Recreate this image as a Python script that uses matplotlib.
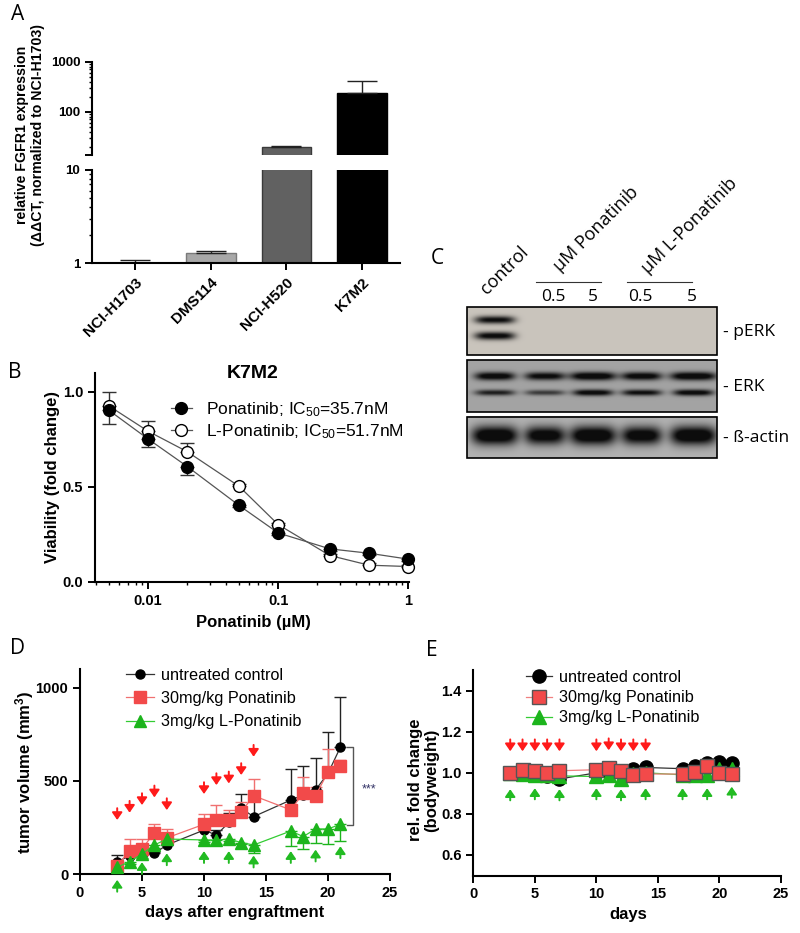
import numpy as np
import matplotlib
matplotlib.use('Agg')
import matplotlib.pyplot as plt
from matplotlib.patches import Rectangle
from matplotlib.ticker import FixedLocator, FixedFormatter, NullFormatter

plt.rcParams['font.family'] = ['Liberation Sans', 'DejaVu Sans']
plt.rcParams['mathtext.fontset'] = 'custom'
plt.rcParams['mathtext.rm'] = 'Liberation Sans'
plt.rcParams['mathtext.it'] = 'Liberation Sans:italic'
plt.rcParams['mathtext.bf'] = 'Liberation Sans:bold'

W, H = 800, 933

# --- A: FGFR1 expression
a_lines = ['NCI-H1703', 'DMS114', 'NCI-H520', 'K7M2']
a_values = [1.0, 1.28, 20.0, 240.0]
a_err = [0.077, 0.065, 0.9, 177.0]
a_colors = ['#ffffff', '#a8a8a8', '#616161', '#000000']
a_edges = ['#888888', '#7a7a7a', '#3a3a3a', '#000000']

# --- B: viability
b_dose = [0.005, 0.01, 0.02, 0.05, 0.1, 0.25, 0.5, 1.0]
b_pona = [0.903, 0.752, 0.607, 0.402, 0.257, 0.173, 0.150, 0.119]
b_pona_err = [0.07, 0.04, 0.045, 0.01, 0.01, 0.01, 0.01, 0.01]
b_lpona = [0.926, 0.793, 0.685, 0.503, 0.301, 0.138, 0.087, 0.080]
b_lpona_err = [0.075, 0.053, 0.045, 0.01, 0.01, 0.01, 0.01, 0.01]

# --- C: western blot (lane intensities)
c_lanes = ['control', '0.5', '5', '0.5', '5']
c_perk_upper = [0.80, 0, 0, 0, 0]
c_perk_lower = [0.85, 0, 0, 0, 0]
c_erk_upper = [0.92, 0.85, 0.97, 0.90, 0.97]
c_erk_lower = [0.70, 0.55, 0.88, 0.80, 0.88]
c_actin = [1.0, 0.92, 1.0, 0.92, 1.0]

# --- D: tumor volume
days = [3, 4, 5, 6, 7, 10, 11, 12, 13, 14, 17, 18, 19, 20, 21]
d_ctrl = [68, 98, 104, 112, 157, 237, 210, 278, 353, 309, 398, 425, 452, 541, 681]
d_ctrl_err = [35, 10, 10, 8, 10, 12, 27, 49, 77, 105, 166, 157, 170, 220, 271]
d_pona = [45, 127, 136, 223, 195, 268, 289, 291, 334, 421, 345, 434, 421, 548, 580]
d_pona_err = [10, 60, 51, 45, 46, 53, 82, 56, 55, 88, 20, 89, 45, 122, 30]
d_lpona = [38, 68, 109, 157, 189, 184, 184, 189, 170, 157, 232, 202, 243, 243, 268]
d_lpona_err = [5, 15, 22, 15, 10, 10, 20, 10, 10, 43, 80, 68, 77, 82, 89]
treat_days_pona = [3, 4, 5, 6, 7, 10, 11, 12, 13, 14]
treat_days_lpona = [3, 5, 7, 10, 12, 14, 17, 19, 21]
d_arrow_pona = [291, 330, 371, 412, 344, 430, 478, 487, 532, 630]
d_arrow_lpona = [-30, 65, 112, 124, 124, 100, 124, 132, 150]

# --- E: bodyweight
e_ctrl = [1.0, 1.0, 0.987, 0.984, 0.97, 1.0, 1.0, 1.0, 1.018, 1.026, 1.02, 1.034, 1.047, 1.055, 1.047]
e_pona = [1.0, 1.015, 1.01, 0.998, 1.01, 1.015, 1.024, 1.01, 0.989, 0.994, 0.994, 1.002, 1.031, 0.997, 0.994]
e_lpona = [1.0, 0.995, 0.99, 0.99, 0.985, 0.982, 0.99, 0.97, 0.995, 1.0, 0.99, 0.99, 0.99, 1.02, 1.02]
e_arrow_pona = [1.105, 1.105, 1.105, 1.105, 1.105, 1.105, 1.11, 1.105, 1.105, 1.105]
e_arrow_lpona = [0.92, 0.925, 0.92, 0.925, 0.92, 0.925, 0.925, 0.925, 0.932]

RED = '#f24a4a'
GREEN = '#1cb41c'

fig = plt.figure(figsize=(W / 100, H / 100), dpi=100)


def px_axes(x0, y0, x1, y1):
    return fig.add_axes([x0 / W, 1 - y1 / H, (x1 - x0) / W, (y1 - y0) / H])


def style(ax, size=10.5):
    for s in ['top', 'right']:
        ax.spines[s].set_visible(False)
    for s in ['left', 'bottom']:
        ax.spines[s].set_linewidth(1.5)
    ax.tick_params(which='major', direction='out', length=5, width=1.4, labelsize=size)
    ax.tick_params(which='minor', direction='out', length=2.5, width=1.0)
    for lab in ax.get_xticklabels() + ax.get_yticklabels():
        lab.set_fontweight('bold')


def letter(x, y, s):
    fig.text(x / W, 1 - y / H, s, fontsize=15, family='Open Sans', ha='center', va='center')


def arrows(ax, xs, tips, color, down, length=8.5):
    for x, t in zip(xs, tips):
        ax.annotate('', xy=(x, t), xytext=(0, length if down else -length), textcoords='offset points',
                    arrowprops=dict(arrowstyle='-|>,head_width=0.38,head_length=0.55', color=color,
                                    lw=1.4, mutation_scale=8, shrinkA=0, shrinkB=0),
                    annotation_clip=False)


# ---------------- A
xa = np.arange(len(a_lines))
top = px_axes(92, 61.7, 400, 155)
low = px_axes(92, 170, 400, 263.3)
for ax in (top, low):
    ax.bar(xa, np.array(a_values) - 1, bottom=1, width=0.66, color=a_colors, edgecolor=a_edges, lw=1)
    ax.errorbar(xa, a_values, yerr=[np.zeros(4), a_err], fmt='none', ecolor='#222222',
                elinewidth=1, capsize=11, capthick=1)
    ax.set_yscale('log')
    ax.set_xlim(-0.57, 3.5)
top.set_ylim(13.6, 1000)
low.set_ylim(1, 10)
top.spines['bottom'].set_visible(False)
top.set_xticks([])
top.yaxis.set_major_locator(FixedLocator([13.6, 100, 1000]))
top.yaxis.set_major_formatter(FixedFormatter(['', '100', '1000']))
top.yaxis.set_minor_locator(FixedLocator([20, 30, 40, 50, 60, 70, 80, 90, 200, 300, 400, 500, 600, 700, 800, 900]))
top.yaxis.set_minor_formatter(NullFormatter())
low.yaxis.set_major_locator(FixedLocator([1, 10]))
low.yaxis.set_major_formatter(FixedFormatter(['1', '10']))
low.yaxis.set_minor_locator(FixedLocator([2, 3, 4, 5, 6, 7, 8, 9]))
low.yaxis.set_minor_formatter(NullFormatter())
low.set_xticks(xa)
low.set_xticklabels(a_lines, rotation=45, ha='right', rotation_mode='anchor')
style(top, 9.5)
style(low, 9.5)
low.tick_params(axis='x', labelsize=11)
top.spines['bottom'].set_visible(False)
fig.text(30 / W, 1 - 135 / H, 'relative FGFR1 expression\n(ΔΔCT, normalized to NCI-H1703)',
         rotation=90, ha='center', va='center', fontsize=10.2, fontweight='bold', linespacing=1.15)
letter(18, 15, 'A')

# ---------------- B
axb = px_axes(95, 373, 409.3, 581.7)
axb.errorbar(b_dose, b_pona, yerr=[b_pona_err, np.zeros(8)], fmt='none', ecolor='#333333',
             elinewidth=1, capsize=5, capthick=1)
axb.errorbar(b_dose, b_lpona, yerr=[np.zeros(8), b_lpona_err], fmt='none', ecolor='#333333',
             elinewidth=1, capsize=5, capthick=1)
axb.plot(b_dose, b_pona, '-o', color='#555555', lw=0.9, ms=8.5, mfc='black', mec='black',
         label='Ponatinib; IC$_{50}$=35.7nM', zorder=4, clip_on=False)
axb.plot(b_dose, b_lpona, '-o', color='#555555', lw=0.9, ms=8.5, mfc='white', mec='black',
         label='L-Ponatinib; IC$_{50}$=51.7nM', zorder=3, clip_on=False)
axb.set_xscale('log')
axb.set_xlim(0.0039, 1.02)
axb.set_ylim(0, 1.1)
axb.set_xticks([0.01, 0.1, 1])
axb.set_xticklabels(['0.01', '0.1', '1'])
axb.set_yticks([0, 0.5, 1.0])
axb.set_yticklabels(['0.0', '0.5', '1.0'])
style(axb, 10.5)
axb.legend(loc='upper left', bbox_to_anchor=(171 / W, 1 - 400 / H), bbox_transform=fig.transFigure,
           frameon=False, fontsize=12.5, handlelength=1.2, handletextpad=0.8, labelspacing=0.2,
           borderpad=0, borderaxespad=0)
fig.text(253 / W, 1 - 374 / H, 'K7M2', fontsize=14, fontweight='bold', ha='center', va='center')
fig.text(253 / W, 1 - 623 / H, 'Ponatinib (µM)', fontsize=12, fontweight='bold', ha='center', va='center')
fig.text(53 / W, 1 - 477 / H, 'Viability (fold change)', rotation=90, fontsize=12, fontweight='bold',
         ha='center', va='center')
letter(15, 372, 'B')

# ---------------- C
axc = px_axes(440, 150, 800, 470)
axc.set_xlim(440, 800)
axc.set_ylim(470, 150)
axc.axis('off')
lane_x = [495, 545, 593, 641.7, 693.3]
label_x = [495, 553, 593, 640, 692]
strips = [
    ('- pERK', 307.3, 355, (0.79, 0.77, 0.74),
     [(320, c_perk_upper, 3.8), (336, c_perk_lower, 3.8)]),
    ('- ERK', 360, 411.7, (0.64, 0.64, 0.64),
     [(376, c_erk_upper, 3.8), (392.5, c_erk_lower, 3.0)]),
    ('- ß-actin', 416.7, 458.3, (0.70, 0.70, 0.70),
     [(436, c_actin, 8.5)]),
]
x0s, x1s = 467.3, 716.7
for name, y0, y1, bg, bands in strips:
    xs = np.linspace(x0s, x1s, 500)
    ys = np.linspace(y0, y1, 120)
    X, Y = np.meshgrid(xs, ys)
    dark = np.zeros_like(X)
    for yc, inten, hh in bands:
        for lx, it in zip(lane_x, inten):
            if it <= 0:
                continue
            hw = 23 if it > 0.95 else 20
            dark += 1.3 * it * np.exp(-((X - lx) / hw) ** 4) * np.exp(-((Y - yc) / (hh * (0.7 + 0.4 * it))) ** 2)
    dark = np.clip(dark, 0, 1)
    rgb = np.empty(X.shape + (3,))
    for k in range(3):
        rgb[..., k] = bg[k] * (1 - dark) + 0.05 * dark
    axc.imshow(rgb, extent=(x0s, x1s, y1, y0), aspect='auto', interpolation='bilinear', zorder=1)
    axc.add_patch(Rectangle((x0s, y0), x1s - x0s, y1 - y0, fill=False, ec='black', lw=1.2, zorder=2))
    axc.text(723, (y0 + y1) / 2 + 1, name, fontsize=12.5, family='Open Sans', va='center', ha='left')
for lx, lab in zip(label_x[1:], c_lanes[1:]):
    axc.text(lx, 296.7, lab, fontsize=12.5, family='Open Sans', ha='center', va='center')
axc.text(490, 298, 'control', fontsize=13, family='Open Sans', rotation=45,
         ha='left', va='bottom', rotation_mode='anchor')
axc.text(563, 275, 'μM Ponatinib', fontsize=13, family='Open Sans', rotation=45,
         ha='left', va='bottom', rotation_mode='anchor')
axc.text(651, 277, 'μM L-Ponatinib', fontsize=13, family='Open Sans', rotation=45,
         ha='left', va='bottom', rotation_mode='anchor')
axc.plot([536, 600.7], [281.7, 281.7], color='#333333', lw=0.8)
axc.plot([627, 691.7], [281.7, 281.7], color='#333333', lw=0.8)
letter(437, 259, 'C')

# ---------------- D
axd = px_axes(80, 669, 390, 874.3)
axd.errorbar(days, d_ctrl, yerr=[np.zeros(15), d_ctrl_err], fmt='none', ecolor='#222222',
             elinewidth=1, capsize=4, capthick=1, zorder=2)
axd.errorbar(days, d_pona, yerr=[np.zeros(15), d_pona_err], fmt='none', ecolor='#f07070',
             elinewidth=1, capsize=4, capthick=1, zorder=2)
axd.errorbar(days, d_lpona, yerr=[d_lpona_err, np.zeros(15)], fmt='none', ecolor=GREEN,
             elinewidth=1, capsize=4, capthick=1, zorder=2)
axd.plot(days, d_ctrl, '-o', color='#333333', lw=0.9, ms=6.5, mfc='black', mec='black',
         label='untreated control', zorder=3)
axd.plot(days, d_pona, '-s', color='#f07070', lw=0.9, ms=8.5, mfc=RED, mec=RED,
         label='30mg/kg Ponatinib', zorder=4)
axd.plot(days, d_lpona, '-^', color='#33cc33', lw=0.9, ms=8, mfc=GREEN, mec=GREEN,
         label='3mg/kg L-Ponatinib', zorder=5)
arrows(axd, treat_days_pona, d_arrow_pona, '#ff1a1a', True)
arrows(axd, treat_days_lpona, d_arrow_lpona, '#22bb22', False)
axd.plot([21.5, 22, 22, 21.5], [680, 680, 262, 262], color='#555555', lw=1, clip_on=False)
axd.text(23.3, 455, '***', color='#333366', fontsize=9, ha='center', va='center')
axd.set_xlim(0, 25)
axd.set_ylim(0, 1100)
axd.set_xticks([0, 5, 10, 15, 20, 25])
axd.set_yticks([0, 500, 1000])
style(axd, 10.5)
axd.legend(loc='upper left', bbox_to_anchor=(126 / W, 1 - 668 / H), bbox_transform=fig.transFigure,
           frameon=False, fontsize=11.7, handlelength=1.7, handletextpad=0.45, labelspacing=0.5,
           borderpad=0, borderaxespad=0)
fig.text(235 / W, 1 - 913 / H, 'days after engraftment', fontsize=12, fontweight='bold',
         ha='center', va='center')
fig.text(25 / W, 1 - 772 / H, 'tumor volume (mm$^{\\mathbf{3}}$)', rotation=90, fontsize=12,
         fontweight='bold', ha='center', va='center')
letter(17, 648, 'D')

# ---------------- E
axe = px_axes(473.3, 670.1, 781, 875.5)
axe.plot(days, e_ctrl, '-o', color='#333333', lw=0.9, ms=9.5, mfc='black', mec='black',
         label='untreated control', zorder=3)
axe.plot(days, e_lpona, '-^', color='#33cc33', lw=0.9, ms=10, mfc=GREEN, mec=GREEN,
         label='3mg/kg L-Ponatinib', zorder=4)
axe.plot(days, e_pona, '-s', color='#f08080', lw=0.9, ms=9.5, mfc=RED, mec='#555555', mew=1,
         label='30mg/kg Ponatinib', zorder=5)
arrows(axe, treat_days_pona, e_arrow_pona, '#ff1a1a', True, 8.5)
arrows(axe, treat_days_lpona, e_arrow_lpona, '#22bb22', False, 8)
axe.set_xlim(0, 25)
axe.set_ylim(0.5, 1.5)
axe.set_xticks([0, 5, 10, 15, 20, 25])
axe.set_yticks([0.6, 0.8, 1.0, 1.2, 1.4])
axe.set_yticklabels(['0.6', '0.8', '1.0', '1.2', '1.4'])
style(axe, 10.5)
h, l = axe.get_legend_handles_labels()
axe.legend([h[0], h[2], h[1]], [l[0], l[2], l[1]], loc='upper left',
           bbox_to_anchor=(526 / W, 1 - 670 / H), bbox_transform=fig.transFigure,
           frameon=False, fontsize=11.7, handlelength=1.6, handletextpad=0.45, labelspacing=0.32,
           borderpad=0, borderaxespad=0)
fig.text(628 / W, 1 - 915 / H, 'days', fontsize=12, fontweight='bold', ha='center', va='center')
fig.text(424 / W, 1 - 780 / H, 'rel. fold change\n(bodyweight)', rotation=90, fontsize=12,
         fontweight='bold', ha='center', va='center', linespacing=1.1)
letter(432, 650, 'E')

fig.savefig('out.png', dpi=100)
